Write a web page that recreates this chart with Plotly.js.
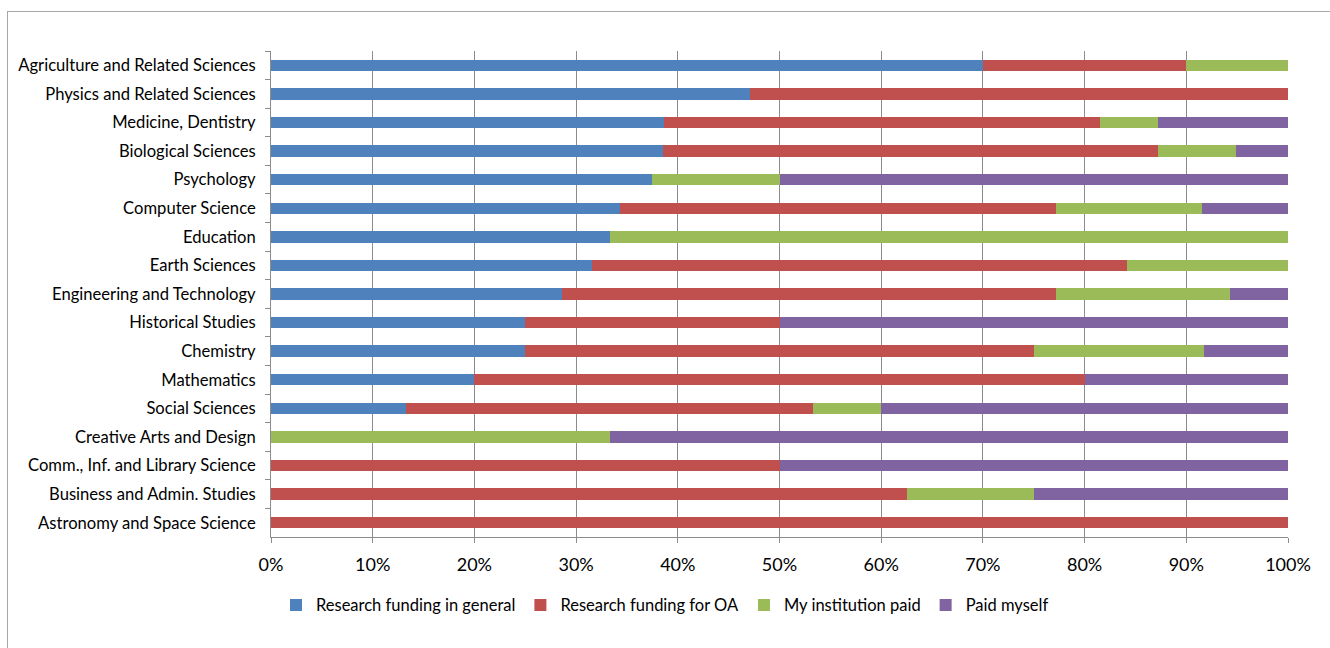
<!DOCTYPE html>
<html>
<head>
<meta charset="utf-8">
<script src="https://cdn.plot.ly/plotly-3.0.1.min.js"></script>
<style>
  html, body { margin: 0; padding: 0; background: #ffffff; overflow: hidden; }
  #chart { position: absolute; left: 0; top: 0; width: 1330px; height: 648px; }
  #frame { position: absolute; left: 7px; top: 11px; width: 1340px; height: 660px;
           border: 1px solid #a6a6a6; pointer-events: none; }
</style>
</head>
<body>
<div id="chart"></div>
<div id="frame"></div>
<script>
const categories = [
  "Agriculture and Related Sciences",
  "Physics and Related Sciences",
  "Medicine, Dentistry",
  "Biological Sciences",
  "Psychology",
  "Computer Science",
  "Education",
  "Earth Sciences",
  "Engineering and Technology",
  "Historical Studies",
  "Chemistry",
  "Mathematics",
  "Social Sciences",
  "Creative Arts and Design",
  "Comm., Inf. and Library Science",
  "Business and Admin. Studies",
  "Astronomy and Space Science"
];
const researchGeneral = [70, 47.1, 38.6, 38.5, 37.5, 34.3, 33.3, 31.6, 28.6, 25, 25, 20, 13.3, 0, 0, 0, 0];
const researchOA      = [20, 52.9, 42.9, 48.7, 0, 42.9, 0, 52.6, 48.6, 25, 50, 60, 40, 0, 50, 62.5, 100];
const institutionPaid = [10, 0, 5.7, 7.7, 12.5, 14.3, 66.7, 15.8, 17.1, 0, 16.7, 0, 6.7, 33.3, 0, 12.5, 0];
const paidMyself      = [0, 0, 12.9, 5.1, 50, 8.6, 0, 0, 5.7, 50, 8.3, 20, 40, 66.7, 50, 25, 0];

const seriesNames = ["Research funding in general", "Research funding for OA", "My institution paid", "Paid myself"];
const seriesValues = [researchGeneral, researchOA, institutionPaid, paidMyself];
const seriesColors = ["#4F81BD", "#C0504D", "#9BBB59", "#8064A2"];

const traces = seriesNames.map((name, i) => ({
  type: "bar",
  orientation: "h",
  name: name,
  x: seriesValues[i],
  y: categories,
  marker: { color: seriesColors[i], line: { width: 0 } },
  hoverinfo: "skip"
}));

const layout = {
  width: 1330,
  height: 648,
  margin: { l: 271, r: 42, t: 51, b: 111 },
  paper_bgcolor: "#ffffff",
  plot_bgcolor: "#ffffff",
  barmode: "stack",
  bargap: 0.6,
  font: { family: "Lato, 'Open Sans', sans-serif", color: "#000000" },
  showlegend: true,
  legend: {
    orientation: "h",
    xref: "container",
    yref: "container",
    x: 0.5, xanchor: "center",
    y: 0.066, yanchor: "middle",
    font: { size: 16.5, color: "#000000" },
    traceorder: "normal",
    itemwidth: 30
  },
  xaxis: {
    range: [0, 100],
    dtick: 10,
    ticksuffix: "%",
    showgrid: true,
    gridcolor: "#8c8c8c",
    gridwidth: 1,
    zeroline: false,
    showline: true,
    linecolor: "#8c8c8c",
    ticks: "outside",
    ticklen: 5,
    tickcolor: "#8c8c8c",
    ticklabelstandoff: 6,
    tickfont: { size: 18, color: "#000000" },
    fixedrange: true
  },
  yaxis: {
    type: "category",
    autorange: "reversed",
    showgrid: false,
    showline: true,
    linecolor: "#8c8c8c",
    ticks: "outside",
    tickson: "boundaries",
    ticklen: 5,
    tickcolor: "#8c8c8c",
    ticklabelstandoff: 11,
    tickfont: { size: 16.6, color: "#000000" },
    fixedrange: true
  }
};

Plotly.newPlot("chart", traces, layout, { displayModeBar: false, staticPlot: true });
</script>
</body>
</html>
